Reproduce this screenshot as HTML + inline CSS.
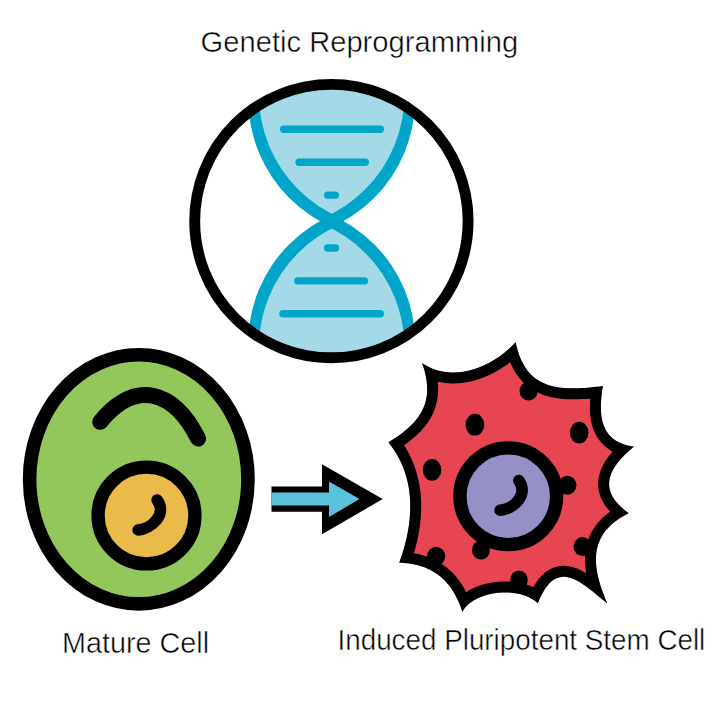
<!DOCTYPE html>
<html><head><meta charset="utf-8"><style>
html,body{margin:0;padding:0;background:#fff;}
svg{display:block;}
text{font-family:"Liberation Sans",sans-serif;}
</style></head><body>
<svg width="726" height="704" viewBox="0 0 726 704">
<defs><clipPath id="cc"><circle cx="331.4" cy="221.1" r="136.7"/></clipPath><clipPath id="top"><rect x="0" y="0" width="726" height="221.1"/></clipPath><clipPath id="bot"><rect x="0" y="221.1" width="726" height="482.9"/></clipPath><clipPath id="oUL"><circle cx="387.06" cy="99.78" r="138.63"/></clipPath><clipPath id="oLL"><circle cx="387.06" cy="342.42" r="138.63"/></clipPath><clipPath id="iUL"><circle cx="392.85" cy="94.48" r="133.99"/></clipPath><clipPath id="iLL"><circle cx="392.85" cy="347.72" r="133.99"/></clipPath></defs>
<g clip-path="url(#cc)"><g clip-path="url(#top)"><g clip-path="url(#oUL)"><circle cx="276.34" cy="99.78" r="138.63" fill="#00A5C9"/></g></g><g clip-path="url(#bot)"><g clip-path="url(#oLL)"><circle cx="276.34" cy="342.42" r="138.63" fill="#00A5C9"/></g></g><g clip-path="url(#iUL)"><circle cx="270.55" cy="94.48" r="133.99" fill="#A4D9E8"/></g><g clip-path="url(#iLL)"><circle cx="270.55" cy="347.72" r="133.99" fill="#A4D9E8"/></g><line x1="283.7" y1="129.3" x2="380.3" y2="129.3" stroke="#00A5C9" stroke-width="7.4" stroke-linecap="round"/><line x1="299.09999999999997" y1="162.3" x2="365.3" y2="162.3" stroke="#00A5C9" stroke-width="7.4" stroke-linecap="round"/><line x1="327.7" y1="195.1" x2="335.40000000000003" y2="195.1" stroke="#00A5C9" stroke-width="7.4" stroke-linecap="round"/><line x1="327.7" y1="248.0" x2="335.40000000000003" y2="248.0" stroke="#00A5C9" stroke-width="7.4" stroke-linecap="round"/><line x1="297.8" y1="280.9" x2="364.40000000000003" y2="280.9" stroke="#00A5C9" stroke-width="7.4" stroke-linecap="round"/><line x1="282.9" y1="313.7" x2="380.3" y2="313.7" stroke="#00A5C9" stroke-width="7.4" stroke-linecap="round"/></g><circle cx="331.4" cy="221.1" r="136.7" fill="none" stroke="#000" stroke-width="10.9"/>
<ellipse cx="138.8" cy="479.3" rx="109.2" ry="124.60000000000001" fill="#93C65B" stroke="#000" stroke-width="13.6"/><path d="M100.2,421.8 C136.53,378.01 174.27,391.2 198.1,438.5" fill="none" stroke="#000" stroke-width="16" stroke-linecap="round"/><circle cx="146.5" cy="515.5" r="48.425000000000004" fill="#EABA4A" stroke="#000" stroke-width="13.35"/><path d="M157.1,500 C167.8,514.5 150.8,529 138.1,530" fill="none" stroke="#000" stroke-width="11.5" stroke-linecap="round"/>
<polygon points="271.5,486.5 322,486.5 322,464.2 382.7,499.1 322,534.2 322,511.8 271.5,511.8" fill="#000"/><polygon points="271.5,492.5 329,492.5 329,481.6 359.5,499.1 329,517 329,505.5 271.5,505.5" fill="#5BC2DC"/>
<clipPath id="star"><path d="M515.70,342.10 L516.47,345.68 L517.33,349.09 L518.28,352.32 L519.33,355.38 L520.46,358.27 L521.67,361.00 L522.98,363.58 L524.36,366.00 L525.83,368.27 L527.37,370.39 L529.00,372.37 L530.70,374.22 L532.48,375.92 L534.32,377.50 L536.25,378.96 L538.24,380.29 L540.30,381.50 L542.43,382.60 L544.62,383.59 L546.87,384.47 L549.19,385.25 L551.57,385.93 L554.01,386.52 L556.50,387.02 L559.05,387.43 L561.66,387.76 L564.32,388.01 L567.02,388.19 L569.78,388.29 L572.59,388.34 L575.44,388.31 L578.33,388.24 L581.27,388.10 L584.25,387.92 L587.27,387.69 L590.33,387.42 L593.42,387.11 L596.55,386.77 L599.71,386.40 L602.90,386.00 L602.56,388.09 L602.25,390.17 L601.97,392.26 L601.71,394.34 L601.48,396.41 L601.28,398.47 L601.13,400.53 L601.01,402.57 L600.93,404.59 L600.90,406.59 L600.91,408.58 L600.98,410.54 L601.09,412.47 L601.27,414.38 L601.50,416.25 L601.79,418.10 L602.14,419.91 L602.56,421.68 L603.05,423.41 L603.62,425.10 L604.25,426.75 L604.97,428.35 L605.76,429.90 L606.63,431.40 L607.60,432.84 L608.64,434.23 L609.78,435.56 L611.02,436.83 L612.35,438.04 L613.78,439.18 L615.31,440.26 L616.94,441.26 L618.68,442.19 L620.53,443.05 L622.50,443.83 L624.58,444.53 L626.77,445.15 L629.09,445.69 L631.53,446.14 L634.10,446.50 L632.20,448.08 L630.36,449.66 L628.57,451.25 L626.84,452.85 L625.17,454.45 L623.57,456.05 L622.04,457.66 L620.57,459.27 L619.18,460.89 L617.87,462.52 L616.64,464.14 L615.49,465.78 L614.42,467.41 L613.44,469.06 L612.56,470.70 L611.77,472.36 L611.08,474.01 L610.48,475.67 L609.99,477.34 L609.61,479.01 L609.33,480.68 L609.17,482.36 L609.13,484.05 L609.20,485.73 L609.39,487.43 L609.71,489.12 L610.15,490.82 L610.72,492.53 L611.43,494.24 L612.27,495.95 L613.25,497.67 L614.37,499.39 L615.64,501.11 L617.05,502.84 L618.62,504.58 L620.33,506.31 L622.21,508.05 L624.24,509.80 L626.44,511.55 L628.80,513.30 L625.75,514.85 L622.86,516.46 L620.15,518.10 L617.60,519.80 L615.21,521.53 L612.98,523.31 L610.90,525.14 L608.97,527.00 L607.19,528.91 L605.56,530.85 L604.07,532.84 L602.71,534.86 L601.49,536.92 L600.40,539.02 L599.44,541.15 L598.60,543.32 L597.88,545.52 L597.29,547.75 L596.80,550.01 L596.43,552.31 L596.17,554.64 L596.01,556.99 L595.95,559.37 L595.99,561.79 L596.12,564.22 L596.35,566.69 L596.67,569.18 L597.07,571.69 L597.55,574.23 L598.11,576.78 L598.75,579.36 L599.45,581.96 L600.23,584.58 L601.07,587.22 L601.97,589.88 L602.93,592.55 L603.95,595.24 L605.02,597.95 L606.14,600.67 L607.30,603.40 L605.45,601.94 L603.59,600.45 L601.73,598.93 L599.87,597.41 L598.01,595.88 L596.15,594.35 L594.28,592.83 L592.42,591.34 L590.56,589.87 L588.71,588.43 L586.85,587.05 L585.00,585.71 L583.16,584.44 L581.32,583.23 L579.49,582.10 L577.66,581.06 L575.84,580.11 L574.04,579.27 L572.24,578.53 L570.45,577.92 L568.67,577.43 L566.90,577.08 L565.14,576.87 L563.40,576.81 L561.67,576.91 L559.96,577.18 L558.26,577.63 L556.58,578.26 L554.91,579.09 L553.26,580.12 L551.63,581.36 L550.02,582.81 L548.43,584.49 L546.86,586.41 L545.31,588.57 L543.78,590.98 L542.27,593.65 L540.79,596.59 L539.33,599.80 L537.90,603.30 L536.44,602.01 L534.88,600.80 L533.24,599.68 L531.51,598.64 L529.71,597.69 L527.84,596.81 L525.90,596.02 L523.90,595.31 L521.85,594.67 L519.76,594.12 L517.61,593.65 L515.44,593.25 L513.23,592.94 L510.99,592.70 L508.74,592.54 L506.47,592.45 L504.19,592.44 L501.91,592.51 L499.63,592.65 L497.36,592.86 L495.11,593.15 L492.87,593.51 L490.66,593.95 L488.48,594.45 L486.33,595.03 L484.23,595.68 L482.18,596.40 L480.18,597.19 L478.23,598.04 L476.35,598.97 L474.55,599.97 L472.81,601.03 L471.16,602.16 L469.60,603.35 L468.12,604.62 L466.75,605.95 L465.48,607.34 L464.32,608.79 L463.27,610.32 L462.35,611.90 L461.57,609.54 L460.75,607.25 L459.89,605.01 L459.00,602.83 L458.08,600.70 L457.11,598.64 L456.11,596.63 L455.07,594.69 L453.99,592.80 L452.87,590.97 L451.71,589.19 L450.52,587.48 L449.28,585.82 L448.00,584.22 L446.68,582.68 L445.32,581.20 L443.92,579.77 L442.48,578.40 L440.99,577.09 L439.46,575.84 L437.89,574.64 L436.27,573.50 L434.61,572.42 L432.90,571.39 L431.15,570.42 L429.36,569.51 L427.52,568.66 L425.63,567.86 L423.69,567.11 L421.71,566.43 L419.68,565.80 L417.60,565.22 L415.48,564.71 L413.30,564.25 L411.08,563.84 L408.80,563.49 L406.48,563.20 L404.10,562.96 L401.68,562.78 L399.20,562.65 L400.30,559.59 L401.35,556.53 L402.35,553.45 L403.29,550.36 L404.19,547.25 L405.03,544.15 L405.82,541.03 L406.54,537.91 L407.21,534.78 L407.81,531.65 L408.36,528.52 L408.83,525.39 L409.24,522.26 L409.58,519.13 L409.85,516.00 L410.05,512.87 L410.17,509.76 L410.22,506.64 L410.19,503.54 L410.07,500.44 L409.88,497.36 L409.61,494.28 L409.25,491.22 L408.80,488.17 L408.26,485.14 L407.64,482.13 L406.92,479.13 L406.11,476.15 L405.20,473.19 L404.20,470.25 L403.09,467.33 L401.89,464.44 L400.58,461.57 L399.17,458.73 L397.65,455.92 L396.02,453.13 L394.29,450.38 L392.44,447.65 L390.48,444.96 L388.40,442.30 L390.83,440.79 L393.20,439.28 L395.49,437.77 L397.71,436.24 L399.86,434.71 L401.93,433.16 L403.93,431.60 L405.85,430.03 L407.69,428.44 L409.46,426.84 L411.14,425.21 L412.75,423.57 L414.28,421.90 L415.73,420.21 L417.09,418.50 L418.38,416.76 L419.57,414.99 L420.69,413.19 L421.72,411.36 L422.66,409.50 L423.51,407.60 L424.28,405.67 L424.95,403.70 L425.54,401.69 L426.04,399.64 L426.44,397.55 L426.76,395.41 L426.97,393.23 L427.10,391.01 L427.13,388.73 L427.06,386.41 L426.90,384.03 L426.64,381.61 L426.28,379.12 L425.82,376.58 L425.26,373.99 L424.60,371.33 L423.84,368.62 L422.97,365.84 L422.00,363.00 L424.34,364.50 L426.71,365.85 L429.11,367.08 L431.54,368.17 L433.99,369.13 L436.46,369.96 L438.95,370.67 L441.46,371.25 L443.98,371.72 L446.51,372.07 L449.05,372.30 L451.59,372.43 L454.14,372.45 L456.69,372.36 L459.24,372.17 L461.79,371.88 L464.33,371.49 L466.87,371.01 L469.39,370.43 L471.90,369.77 L474.40,369.02 L476.88,368.19 L479.33,367.28 L481.77,366.29 L484.18,365.22 L486.56,364.08 L488.92,362.88 L491.24,361.60 L493.52,360.26 L495.77,358.86 L497.98,357.41 L500.15,355.89 L502.27,354.32 L504.35,352.71 L506.38,351.04 L508.36,349.33 L510.28,347.58 L512.15,345.79 L513.95,343.96 Z"/></clipPath><path d="M515.70,342.10 L516.47,345.68 L517.33,349.09 L518.28,352.32 L519.33,355.38 L520.46,358.27 L521.67,361.00 L522.98,363.58 L524.36,366.00 L525.83,368.27 L527.37,370.39 L529.00,372.37 L530.70,374.22 L532.48,375.92 L534.32,377.50 L536.25,378.96 L538.24,380.29 L540.30,381.50 L542.43,382.60 L544.62,383.59 L546.87,384.47 L549.19,385.25 L551.57,385.93 L554.01,386.52 L556.50,387.02 L559.05,387.43 L561.66,387.76 L564.32,388.01 L567.02,388.19 L569.78,388.29 L572.59,388.34 L575.44,388.31 L578.33,388.24 L581.27,388.10 L584.25,387.92 L587.27,387.69 L590.33,387.42 L593.42,387.11 L596.55,386.77 L599.71,386.40 L602.90,386.00 L602.56,388.09 L602.25,390.17 L601.97,392.26 L601.71,394.34 L601.48,396.41 L601.28,398.47 L601.13,400.53 L601.01,402.57 L600.93,404.59 L600.90,406.59 L600.91,408.58 L600.98,410.54 L601.09,412.47 L601.27,414.38 L601.50,416.25 L601.79,418.10 L602.14,419.91 L602.56,421.68 L603.05,423.41 L603.62,425.10 L604.25,426.75 L604.97,428.35 L605.76,429.90 L606.63,431.40 L607.60,432.84 L608.64,434.23 L609.78,435.56 L611.02,436.83 L612.35,438.04 L613.78,439.18 L615.31,440.26 L616.94,441.26 L618.68,442.19 L620.53,443.05 L622.50,443.83 L624.58,444.53 L626.77,445.15 L629.09,445.69 L631.53,446.14 L634.10,446.50 L632.20,448.08 L630.36,449.66 L628.57,451.25 L626.84,452.85 L625.17,454.45 L623.57,456.05 L622.04,457.66 L620.57,459.27 L619.18,460.89 L617.87,462.52 L616.64,464.14 L615.49,465.78 L614.42,467.41 L613.44,469.06 L612.56,470.70 L611.77,472.36 L611.08,474.01 L610.48,475.67 L609.99,477.34 L609.61,479.01 L609.33,480.68 L609.17,482.36 L609.13,484.05 L609.20,485.73 L609.39,487.43 L609.71,489.12 L610.15,490.82 L610.72,492.53 L611.43,494.24 L612.27,495.95 L613.25,497.67 L614.37,499.39 L615.64,501.11 L617.05,502.84 L618.62,504.58 L620.33,506.31 L622.21,508.05 L624.24,509.80 L626.44,511.55 L628.80,513.30 L625.75,514.85 L622.86,516.46 L620.15,518.10 L617.60,519.80 L615.21,521.53 L612.98,523.31 L610.90,525.14 L608.97,527.00 L607.19,528.91 L605.56,530.85 L604.07,532.84 L602.71,534.86 L601.49,536.92 L600.40,539.02 L599.44,541.15 L598.60,543.32 L597.88,545.52 L597.29,547.75 L596.80,550.01 L596.43,552.31 L596.17,554.64 L596.01,556.99 L595.95,559.37 L595.99,561.79 L596.12,564.22 L596.35,566.69 L596.67,569.18 L597.07,571.69 L597.55,574.23 L598.11,576.78 L598.75,579.36 L599.45,581.96 L600.23,584.58 L601.07,587.22 L601.97,589.88 L602.93,592.55 L603.95,595.24 L605.02,597.95 L606.14,600.67 L607.30,603.40 L605.45,601.94 L603.59,600.45 L601.73,598.93 L599.87,597.41 L598.01,595.88 L596.15,594.35 L594.28,592.83 L592.42,591.34 L590.56,589.87 L588.71,588.43 L586.85,587.05 L585.00,585.71 L583.16,584.44 L581.32,583.23 L579.49,582.10 L577.66,581.06 L575.84,580.11 L574.04,579.27 L572.24,578.53 L570.45,577.92 L568.67,577.43 L566.90,577.08 L565.14,576.87 L563.40,576.81 L561.67,576.91 L559.96,577.18 L558.26,577.63 L556.58,578.26 L554.91,579.09 L553.26,580.12 L551.63,581.36 L550.02,582.81 L548.43,584.49 L546.86,586.41 L545.31,588.57 L543.78,590.98 L542.27,593.65 L540.79,596.59 L539.33,599.80 L537.90,603.30 L536.44,602.01 L534.88,600.80 L533.24,599.68 L531.51,598.64 L529.71,597.69 L527.84,596.81 L525.90,596.02 L523.90,595.31 L521.85,594.67 L519.76,594.12 L517.61,593.65 L515.44,593.25 L513.23,592.94 L510.99,592.70 L508.74,592.54 L506.47,592.45 L504.19,592.44 L501.91,592.51 L499.63,592.65 L497.36,592.86 L495.11,593.15 L492.87,593.51 L490.66,593.95 L488.48,594.45 L486.33,595.03 L484.23,595.68 L482.18,596.40 L480.18,597.19 L478.23,598.04 L476.35,598.97 L474.55,599.97 L472.81,601.03 L471.16,602.16 L469.60,603.35 L468.12,604.62 L466.75,605.95 L465.48,607.34 L464.32,608.79 L463.27,610.32 L462.35,611.90 L461.57,609.54 L460.75,607.25 L459.89,605.01 L459.00,602.83 L458.08,600.70 L457.11,598.64 L456.11,596.63 L455.07,594.69 L453.99,592.80 L452.87,590.97 L451.71,589.19 L450.52,587.48 L449.28,585.82 L448.00,584.22 L446.68,582.68 L445.32,581.20 L443.92,579.77 L442.48,578.40 L440.99,577.09 L439.46,575.84 L437.89,574.64 L436.27,573.50 L434.61,572.42 L432.90,571.39 L431.15,570.42 L429.36,569.51 L427.52,568.66 L425.63,567.86 L423.69,567.11 L421.71,566.43 L419.68,565.80 L417.60,565.22 L415.48,564.71 L413.30,564.25 L411.08,563.84 L408.80,563.49 L406.48,563.20 L404.10,562.96 L401.68,562.78 L399.20,562.65 L400.30,559.59 L401.35,556.53 L402.35,553.45 L403.29,550.36 L404.19,547.25 L405.03,544.15 L405.82,541.03 L406.54,537.91 L407.21,534.78 L407.81,531.65 L408.36,528.52 L408.83,525.39 L409.24,522.26 L409.58,519.13 L409.85,516.00 L410.05,512.87 L410.17,509.76 L410.22,506.64 L410.19,503.54 L410.07,500.44 L409.88,497.36 L409.61,494.28 L409.25,491.22 L408.80,488.17 L408.26,485.14 L407.64,482.13 L406.92,479.13 L406.11,476.15 L405.20,473.19 L404.20,470.25 L403.09,467.33 L401.89,464.44 L400.58,461.57 L399.17,458.73 L397.65,455.92 L396.02,453.13 L394.29,450.38 L392.44,447.65 L390.48,444.96 L388.40,442.30 L390.83,440.79 L393.20,439.28 L395.49,437.77 L397.71,436.24 L399.86,434.71 L401.93,433.16 L403.93,431.60 L405.85,430.03 L407.69,428.44 L409.46,426.84 L411.14,425.21 L412.75,423.57 L414.28,421.90 L415.73,420.21 L417.09,418.50 L418.38,416.76 L419.57,414.99 L420.69,413.19 L421.72,411.36 L422.66,409.50 L423.51,407.60 L424.28,405.67 L424.95,403.70 L425.54,401.69 L426.04,399.64 L426.44,397.55 L426.76,395.41 L426.97,393.23 L427.10,391.01 L427.13,388.73 L427.06,386.41 L426.90,384.03 L426.64,381.61 L426.28,379.12 L425.82,376.58 L425.26,373.99 L424.60,371.33 L423.84,368.62 L422.97,365.84 L422.00,363.00 L424.34,364.50 L426.71,365.85 L429.11,367.08 L431.54,368.17 L433.99,369.13 L436.46,369.96 L438.95,370.67 L441.46,371.25 L443.98,371.72 L446.51,372.07 L449.05,372.30 L451.59,372.43 L454.14,372.45 L456.69,372.36 L459.24,372.17 L461.79,371.88 L464.33,371.49 L466.87,371.01 L469.39,370.43 L471.90,369.77 L474.40,369.02 L476.88,368.19 L479.33,367.28 L481.77,366.29 L484.18,365.22 L486.56,364.08 L488.92,362.88 L491.24,361.60 L493.52,360.26 L495.77,358.86 L497.98,357.41 L500.15,355.89 L502.27,354.32 L504.35,352.71 L506.38,351.04 L508.36,349.33 L510.28,347.58 L512.15,345.79 L513.95,343.96 Z" fill="#E74552" stroke="#000" stroke-width="22.0" stroke-linejoin="round" clip-path="url(#star)"/><circle cx="508.25" cy="496.25" r="48.349999999999994" fill="#9591C7" stroke="#000" stroke-width="13.4"/><path d="M518.8,480.5 C529.5,495 512.5,509.5 500,510.3" fill="none" stroke="#000" stroke-width="11.5" stroke-linecap="round"/><ellipse cx="474.9" cy="424.7" rx="9.3" ry="10.9" fill="#000"/><ellipse cx="432.05" cy="469.9" rx="9.3" ry="10.9" fill="#000"/><ellipse cx="528.6" cy="391.1" rx="9.1" ry="9.5" fill="#000"/><ellipse cx="579.2" cy="432.6" rx="9.3" ry="10.9" fill="#000"/><ellipse cx="436.2" cy="556.3" rx="9" ry="9.5" fill="#000"/><ellipse cx="481" cy="550" rx="9" ry="9.5" fill="#000"/><ellipse cx="567.4" cy="485.3" rx="9" ry="9.5" fill="#000"/><ellipse cx="582.5" cy="546.6" rx="9" ry="9.5" fill="#000"/><ellipse cx="519" cy="580" rx="8.8" ry="9.5" fill="#000"/>
<text x="200.6" y="51.8" font-family="Liberation Sans, sans-serif" font-size="29.4" textLength="317.5" lengthAdjust="spacingAndGlyphs" fill="#000" stroke="#fff" stroke-width="0.5">Genetic Reprogramming</text><text x="62.1" y="653.2" font-family="Liberation Sans, sans-serif" font-size="29.4" textLength="147.0" lengthAdjust="spacingAndGlyphs" fill="#000" stroke="#fff" stroke-width="0.5">Mature Cell</text><text x="337.5" y="650.0" font-family="Liberation Sans, sans-serif" font-size="29.4" textLength="367.8" lengthAdjust="spacingAndGlyphs" fill="#000" stroke="#fff" stroke-width="0.5">Induced Pluripotent Stem Cell</text>
</svg>
</body></html>
